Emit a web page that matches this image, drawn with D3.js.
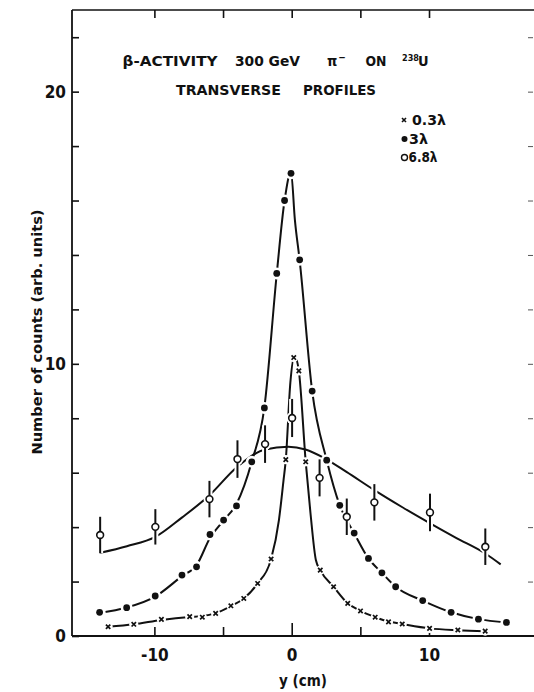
<!DOCTYPE html>
<html>
<head>
<meta charset="utf-8">
<script src="https://cdn.jsdelivr.net/npm/d3@7"></script>
<style>
  html, body { margin: 0; padding: 0; background: #fff; }
  svg { display: block; }
  text { font-family: "DejaVu Sans Condensed", "DejaVu Sans", sans-serif; font-stretch: condensed; font-weight: bold; fill: #111; }
</style>
</head>
<body>
<script>
// ---------- data ----------
// 0.3 lambda (crosses)
const cross_x = [-13.37,-11.5,-9.49,-7.43,-6.51,-5.54,-4.43,-3.49,-2.48,-1.5,-0.43,0.15,0.52,1.02,2.08,3.05,4.08,5.01,6.08,7.05,8.05,10.04,12.1,14.09];
const cross_y = [0.34,0.43,0.61,0.71,0.69,0.83,1.11,1.38,1.93,2.83,6.48,10.23,9.74,6.4,2.42,1.81,1.2,0.92,0.69,0.52,0.44,0.28,0.22,0.18];
// 3 lambda (filled circles)
const dot_x = [-13.99,-12.02,-9.94,-7.99,-6.93,-5.95,-4.96,-4.02,-2.91,-1.99,-1.09,-0.52,-0.05,0.58,1.49,2.55,3.5,4.55,5.59,6.57,7.57,9.54,11.61,13.6,15.64];
const dot_y = [0.87,1.04,1.47,2.24,2.54,3.73,4.26,4.78,6.4,8.38,13.32,16.0,17.0,13.82,9.0,6.46,4.8,3.78,2.85,2.32,1.81,1.3,0.87,0.62,0.5];
// 6.8 lambda (open circles with error bars)
const open_x = [-13.95,-9.93,-5.99,-3.95,-1.94,0.03,2.03,4.01,6.02,10.07,14.1];
const open_y = [3.71,4.01,5.03,6.5,7.05,8.01,5.81,4.38,4.91,4.54,3.28];
const open_err = [0.67,0.65,0.67,0.69,0.69,0.7,0.68,0.67,0.67,0.69,0.67];

// fitted curves
const fit03_x = [-13.37,-11.5,-9.49,-7.43,-6.51,-5.54,-4.43,-3.49,-2.48,-1.5,-0.93,-0.6,-0.43,-0.1,0.2,0.52,1.02,1.37,1.76,2.08,3.05,4.08,5.01,6.08,7.05,8.05,10.04,12.1,14.09];
const fit03_y = [0.34,0.43,0.59,0.7,0.73,0.84,1.1,1.38,1.93,2.83,4.26,5.7,6.48,9.3,10.3,9.74,6.4,4.5,2.79,2.42,1.81,1.2,0.92,0.69,0.53,0.44,0.28,0.21,0.17];
const fit3_x = [-13.99,-12.02,-9.94,-7.99,-6.93,-5.95,-4.96,-4.02,-2.91,-1.99,-1.09,-0.52,-0.05,0.23,0.58,1.49,2.55,3.5,4.55,5.59,6.57,7.57,9.54,11.61,13.6,15.64];
const fit3_y = [0.85,1.05,1.45,2.2,2.6,3.6,4.25,4.85,6.4,8.4,13.3,16.0,17.05,15.3,13.8,9.0,6.46,4.8,3.78,2.85,2.32,1.81,1.3,0.87,0.62,0.5];
const fit68_x = [-13.94,-12,-9.93,-8,-5.99,-4,-1.94,-0.25,1,2.43,3.99,6.02,8.03,10.08,12,14.1,15.22];
const fit68_y = [3.06,3.3,3.64,4.35,5.17,6.2,6.85,6.95,6.85,6.52,6.03,5.36,4.74,4.14,3.6,3.03,2.63];

// ticks
const xTickValues = [-10,-5,0,5,10];
const xTickLabels = [-10,0,10];
const yTickValues = [0,2,4,6,8,10,12,14,16,18,20,22];
const yTickLabels = [0,10,20];

// ---------- drawing ----------
const W = 534, H = 692;
const svg = d3.select("body").append("svg").attr("width", W).attr("height", H);

const x = d3.scaleLinear().domain([-16, 17.5]).range([72, 532]);
const y = d3.scaleLinear().domain([0, 23]).range([636, 10]);
const INK = "#111";

// frame lines
svg.append("line").attr("x1", 72).attr("x2", 534).attr("y1", 636).attr("y2", 636).attr("stroke", INK).attr("stroke-width", 1.8);
svg.append("line").attr("x1", 72).attr("x2", 534).attr("y1", 10).attr("y2", 10).attr("stroke", INK).attr("stroke-width", 1.6);
svg.append("line").attr("x1", 72).attr("x2", 72).attr("y1", 10).attr("y2", 636).attr("stroke", INK).attr("stroke-width", 1.8);

// bottom axis
const gx = svg.append("g").attr("transform", "translate(0,636)")
  .call(d3.axisBottom(x).tickValues(xTickValues).tickSize(-9).tickSizeOuter(0).tickPadding(13)
    .tickFormat(d => xTickLabels.includes(d) ? String(d) : ""));
gx.select(".domain").remove();
gx.selectAll(".tick line").attr("stroke", INK).attr("stroke-width", 1.6).attr("y2", d => d === 0 ? -13 : -9);
gx.selectAll(".tick text").style("font-size", "17px").attr("fill", INK);

// top axis ticks
const gt = svg.append("g").attr("transform", "translate(0,10)")
  .call(d3.axisTop(x).tickValues(xTickValues).tickSize(-8).tickSizeOuter(0).tickFormat(""));
gt.select(".domain").remove();
gt.selectAll(".tick line").attr("stroke", INK).attr("stroke-width", 1.6);

// left axis
const gy = svg.append("g").attr("transform", "translate(72,0)")
  .call(d3.axisLeft(y).tickValues(yTickValues).tickSize(-7).tickSizeOuter(0).tickPadding(6)
    .tickFormat(d => yTickLabels.includes(d) ? String(d) : ""));
gy.select(".domain").remove();
gy.selectAll(".tick line").attr("stroke", INK).attr("stroke-width", 1.6);
gy.selectAll(".tick text").style("font-size", "17px").attr("fill", INK);

// right side ticks (frame edge, faint)
const gr = svg.append("g").attr("transform", "translate(533,0)")
  .call(d3.axisRight(y).tickValues(yTickValues.filter(v => v > 0)).tickSize(-5).tickSizeOuter(0).tickFormat(""));
gr.select(".domain").remove();
gr.selectAll(".tick line").attr("stroke", "#555").attr("stroke-width", 1);

// axis titles
svg.append("text").attr("x", 303).attr("y", 686).attr("text-anchor", "middle")
  .style("font-size", "15px").text("y (cm)");
svg.append("text").attr("transform", "translate(42,332) rotate(-90)").attr("text-anchor", "middle")
  .style("font-size", "14px").attr("textLength", 245).attr("lengthAdjust", "spacingAndGlyphs")
  .text("Number of counts (arb. units)");

// title
const t1 = [
  {s: "β-ACTIVITY", x: 122.6, w: 95},
  {s: "300 GeV", x: 235, w: 65}
];
t1.forEach(t => svg.append("text").attr("x", t.x).attr("y", 66).style("font-size", "14.5px")
  .attr("textLength", t.w).attr("lengthAdjust", "spacingAndGlyphs").text(t.s));
svg.append("text").attr("x", 327).attr("y", 66).style("font-size", "14.5px")
  .html('π<tspan dx="1" dy="-5" style="font-size:10px">−</tspan>');
svg.append("text").attr("x", 365.5).attr("y", 66).style("font-size", "14.5px")
  .attr("textLength", 21).attr("lengthAdjust", "spacingAndGlyphs").text("ON");
svg.append("text").attr("x", 402).attr("y", 61).style("font-size", "9px").text("238");
svg.append("text").attr("x", 418).attr("y", 66).style("font-size", "14.5px").text("U");
svg.append("text").attr("x", 176).attr("y", 95).style("font-size", "14.5px")
  .attr("textLength", 105).attr("lengthAdjust", "spacingAndGlyphs").text("TRANSVERSE");
svg.append("text").attr("x", 303).attr("y", 95).style("font-size", "14.5px")
  .attr("textLength", 73).attr("lengthAdjust", "spacingAndGlyphs").text("PROFILES");

// fitted curves
const line = d3.line().x(d => x(d[0])).y(d => y(d[1])).curve(d3.curveMonotoneX);
const zip = (a, b) => a.map((v, i) => [v, b[i]]);
[[fit68_x, fit68_y], [fit3_x, fit3_y], [fit03_x, fit03_y]].forEach(([fx, fy]) => {
  svg.append("path").datum(zip(fx, fy)).attr("d", line)
    .attr("fill", "none").attr("stroke", INK).attr("stroke-width", 2).attr("stroke-linejoin", "round");
});

// halos (create the breaks in the lines round the markers)
const halo = svg.append("g");
zip(dot_x, dot_y).forEach(d => halo.append("circle").attr("cx", x(d[0])).attr("cy", y(d[1])).attr("r", 6).attr("fill", "#fff"));
zip(cross_x, cross_y).forEach(d => halo.append("circle").attr("cx", x(d[0])).attr("cy", y(d[1])).attr("r", 4.6).attr("fill", "#fff"));
open_x.forEach((v, i) => {
  halo.append("line").attr("x1", x(v)).attr("x2", x(v)).attr("y1", y(open_y[i] - open_err[i])).attr("y2", y(open_y[i] + open_err[i]))
    .attr("stroke", "#fff").attr("stroke-width", 6);
  halo.append("circle").attr("cx", x(v)).attr("cy", y(open_y[i])).attr("r", 6).attr("fill", "#fff");
});

// markers
const marks = svg.append("g");
open_x.forEach((v, i) => {
  marks.append("line").attr("x1", x(v)).attr("x2", x(v)).attr("y1", y(open_y[i] - open_err[i])).attr("y2", y(open_y[i] + open_err[i]))
    .attr("stroke", INK).attr("stroke-width", 2);
  marks.append("circle").attr("cx", x(v)).attr("cy", y(open_y[i])).attr("r", 3.4)
    .attr("fill", "#fff").attr("stroke", INK).attr("stroke-width", 1.6);
});
zip(dot_x, dot_y).forEach(d => marks.append("circle").attr("cx", x(d[0])).attr("cy", y(d[1])).attr("r", 3.4).attr("fill", INK));
const crossPath = (cx, cy, s) => `M${cx - s},${cy - s}L${cx + s},${cy + s}M${cx - s},${cy + s}L${cx + s},${cy - s}`;
zip(cross_x, cross_y).forEach(d => marks.append("path").attr("d", crossPath(x(d[0]), y(d[1]), 2.2))
  .attr("stroke", INK).attr("stroke-width", 1.7).attr("fill", "none"));

// legend
const leg = svg.append("g");
leg.append("path").attr("d", crossPath(404, 120, 2)).attr("stroke", INK).attr("stroke-width", 1.6);
leg.append("text").attr("x", 412).attr("y", 124.5).style("font-size", "13.5px")
  .attr("textLength", 34).attr("lengthAdjust", "spacingAndGlyphs").text("0.3λ");
leg.append("circle").attr("cx", 404.5).attr("cy", 139).attr("r", 3).attr("fill", INK);
leg.append("text").attr("x", 409).attr("y", 143.5).style("font-size", "13.5px")
  .attr("textLength", 19).attr("lengthAdjust", "spacingAndGlyphs").text("3λ");
leg.append("circle").attr("cx", 404.5).attr("cy", 157.5).attr("r", 3).attr("fill", "#fff").attr("stroke", INK).attr("stroke-width", 1.4);
leg.append("text").attr("x", 408.5).attr("y", 162).style("font-size", "13.5px")
  .attr("textLength", 29).attr("lengthAdjust", "spacingAndGlyphs").text("6.8λ");
</script>
</body>
</html>
